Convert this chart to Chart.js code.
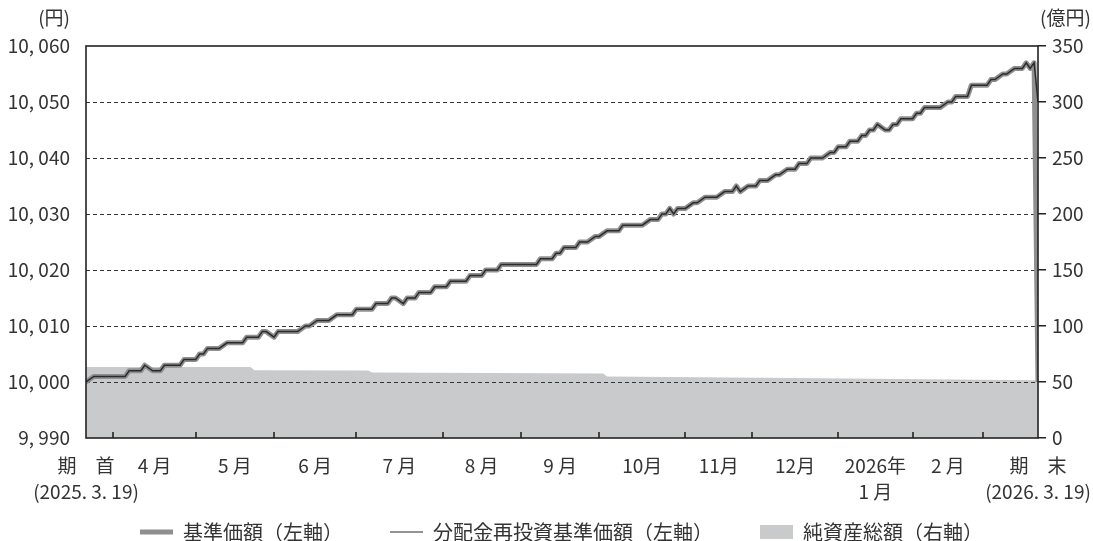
<!DOCTYPE html>
<html lang="ja">
<head>
<meta charset="utf-8">
<script src="https://cdn.jsdelivr.net/npm/chart.js@4.4.1/dist/chart.umd.min.js"></script>
<style>
  body { margin: 0; background: #fff; }
</style>
</head>
<body>
<canvas id="chart" width="1093" height="541"></canvas>
<script>
// x = trading day from 期首 (0) to 期末 (243)
const navDays = [
  0, 2, 10, 11, 14, 15, 17, 19, 20, 24,
  25, 28, 29, 30, 31, 34, 36, 40, 41, 44,
  45, 46, 48, 49, 54, 56, 57, 59, 62, 64,
  68, 69, 73, 74, 77, 78, 79, 81, 82, 84,
  85, 88, 89, 92, 93, 97, 98, 101, 102, 105,
  106, 115, 116, 119, 120, 121, 122, 125, 126, 128,
  130, 131, 133, 136, 137, 142, 144, 146, 147, 148,
  149, 150, 151, 153, 155, 156, 158, 161, 163, 165,
  166, 167, 169, 171, 172, 174, 176, 177, 179, 181,
  182, 184, 185, 188, 190, 191, 192, 194, 195, 197,
  198, 199, 200, 201, 202, 204, 205, 206, 207, 208,
  211, 212, 213, 214, 218, 220, 221, 222, 225, 226,
  230, 231, 232, 234, 235, 237, 239, 240, 241, 242,
  243
];
// 基準価額 (円)
const navValues = [
  10000, 10001, 10001, 10002, 10002, 10003, 10002, 10002, 10003, 10003,
  10004, 10004, 10005, 10005, 10006, 10006, 10007, 10007, 10008, 10008,
  10009, 10009, 10008, 10009, 10009, 10010, 10010, 10011, 10011, 10012,
  10012, 10013, 10013, 10014, 10014, 10015, 10015, 10014, 10015, 10015,
  10016, 10016, 10017, 10017, 10018, 10018, 10019, 10019, 10020, 10020,
  10021, 10021, 10022, 10022, 10023, 10023, 10024, 10024, 10025, 10025,
  10026, 10026, 10027, 10027, 10028, 10028, 10029, 10029, 10030, 10030,
  10031, 10030, 10031, 10031, 10032, 10032, 10033, 10033, 10034, 10034,
  10035, 10034, 10035, 10035, 10036, 10036, 10037, 10037, 10038, 10038,
  10039, 10039, 10040, 10040, 10041, 10041, 10042, 10042, 10043, 10043,
  10044, 10044, 10045, 10045, 10046, 10045, 10045, 10046, 10046, 10047,
  10047, 10048, 10048, 10049, 10049, 10050, 10050, 10051, 10051, 10053,
  10053, 10054, 10054, 10055, 10055, 10056, 10056, 10057, 10056, 10057,
  10000
];
// 分配金再投資基準価額 (円)
const reinvestValues = [
  10000, 10001, 10001, 10002, 10002, 10003, 10002, 10002, 10003, 10003,
  10004, 10004, 10005, 10005, 10006, 10006, 10007, 10007, 10008, 10008,
  10009, 10009, 10008, 10009, 10009, 10010, 10010, 10011, 10011, 10012,
  10012, 10013, 10013, 10014, 10014, 10015, 10015, 10014, 10015, 10015,
  10016, 10016, 10017, 10017, 10018, 10018, 10019, 10019, 10020, 10020,
  10021, 10021, 10022, 10022, 10023, 10023, 10024, 10024, 10025, 10025,
  10026, 10026, 10027, 10027, 10028, 10028, 10029, 10029, 10030, 10030,
  10031, 10030, 10031, 10031, 10032, 10032, 10033, 10033, 10034, 10034,
  10035, 10034, 10035, 10035, 10036, 10036, 10037, 10037, 10038, 10038,
  10039, 10039, 10040, 10040, 10041, 10041, 10042, 10042, 10043, 10043,
  10044, 10044, 10045, 10045, 10046, 10045, 10045, 10046, 10046, 10047,
  10047, 10048, 10048, 10049, 10049, 10050, 10050, 10051, 10051, 10053,
  10053, 10054, 10054, 10055, 10055, 10056, 10056, 10057, 10056, 10057,
  10050
];
// 純資産総額 (億円)
const assetDays = [0, 42, 43, 72, 73, 132, 133, 180, 243];
const assetValues = [63.5, 63.5, 60.5, 60.2, 58.4, 57.6, 55.0, 53.6, 51.5];

const monthStarts = [7, 28, 48, 69, 91, 111, 131, 153, 170, 192, 211, 229];
const xLabels = [
  ['期　首', '(2025. 3. 19)'], '4 月', '5 月', '6 月', '7 月', '8 月', '9 月',
  '10月', '11月', '12月', ['2026年', '1 月'], '2 月', ['期　末', '(2026. 3. 19)']
];
const leftTicks = [9990, 10000, 10010, 10020, 10030, 10040, 10050, 10060];
const rightTicks = [0, 50, 100, 150, 200, 250, 300, 350];

const FONT = '"Noto Sans CJK JP", "Noto Sans", sans-serif';
const TEXT = '#333';
const LEGEND_PAD = 47;
const LEGEND_FONT = 20;
Chart.defaults.font.family = FONT;
Chart.defaults.color = TEXT;

const lastDay = navDays[navDays.length - 1];
// label under the middle of each month, 期首/期末 at the ends
const labelPos = [0];
for (let i = 0; i < monthStarts.length - 1; i++) labelPos.push((monthStarts[i] + monthStarts[i + 1]) / 2);
labelPos.push(lastDay);

const toXY = (xs, ys) => xs.map((d, i) => ({ x: d, y: ys[i] }));
const yen = v => { const s = String(v); return s.length > 3 ? s.slice(0, -3) + ', ' + s.slice(-3) : s; };

const framePlugin = {
  id: 'frame',
  afterLayout(chart) {
    // legend row sits lower and a bit right, as in the original
    const lg = chart.legend;
    lg.top = 532 - LEGEND_PAD - LEGEND_FONT / 2;
    lg.bottom = chart.height;
    lg.left += 15;
    lg.right += 15;
  },
  afterDatasetDraw(chart, args) {
    if (args.index !== 2) return; // dashed grid sits on top of the area
    const { ctx, chartArea: a, scales: { y } } = chart;
    ctx.save();
    ctx.strokeStyle = '#333';
    ctx.lineWidth = 1;
    ctx.setLineDash([4, 3]);
    leftTicks.slice(1, -1).forEach(v => {
      const py = Math.round(y.getPixelForValue(v)) + 0.5;
      ctx.beginPath();
      ctx.moveTo(a.left, py);
      ctx.lineTo(a.right, py);
      ctx.stroke();
    });
    ctx.restore();
  },
  afterDraw(chart) {
    const { ctx, chartArea: a, scales: { x } } = chart;
    ctx.save();
    ctx.strokeStyle = '#222';
    ctx.lineWidth = 1.6;
    ctx.strokeRect(a.left, a.top, a.right - a.left, a.bottom - a.top);
    monthStarts.forEach(d => {
      const px = Math.round(x.getPixelForValue(d));
      ctx.beginPath();
      ctx.moveTo(px, a.bottom);
      ctx.lineTo(px, a.bottom - 6);
      ctx.stroke();
    });
    ctx.fillStyle = TEXT;
    ctx.font = '19px ' + FONT;
    ctx.textBaseline = 'middle';
    ctx.textAlign = 'right';
    ctx.fillText('(円)', a.left - 16, 18);
    ctx.textAlign = 'left';
    ctx.fillText('(億円)', a.right + 2, 18);
    ctx.restore();
  }
};

new Chart(document.getElementById('chart'), {
  type: 'line',
  data: {
    datasets: [{
      label: '基準価額（左軸）',
      data: toXY(navDays, navValues),
      borderColor: '#8f8f8f',
      borderWidth: 5,
      borderJoinStyle: 'round',
      pointRadius: 0,
      yAxisID: 'y',
      order: 2
    }, {
      label: '分配金再投資基準価額（左軸）',
      data: toXY(navDays, reinvestValues),
      borderColor: '#2b2b2b',
      borderWidth: 1.5,
      pointRadius: 0,
      yAxisID: 'y',
      order: 1
    }, {
      label: '純資産総額（右軸）',
      data: toXY(assetDays, assetValues),
      borderWidth: 0,
      backgroundColor: '#c9cacc',
      fill: 'origin',
      pointRadius: 0,
      yAxisID: 'y1',
      order: 3
    }]
  },
  options: {
    responsive: false,
    animation: false,
    layout: { padding: { top: 46, left: 0, right: 0, bottom: 0 } },
    plugins: {
      tooltip: { enabled: false },
      legend: {
        position: 'bottom',
        maxHeight: 30,
        labels: {
          usePointStyle: true,
          pointStyleWidth: 33,
          boxHeight: 14,
          padding: LEGEND_PAD,
          color: TEXT,
          font: { size: LEGEND_FONT },
          generateLabels: () => [
            { text: '基準価額（左軸）', pointStyle: 'line', strokeStyle: '#8f8f8f', lineWidth: 5, fillStyle: '#8f8f8f', fontColor: TEXT, hidden: false, datasetIndex: 0 },
            { text: '分配金再投資基準価額（左軸）', pointStyle: 'line', strokeStyle: '#2b2b2b', lineWidth: 1.2, fillStyle: '#2b2b2b', fontColor: TEXT, hidden: false, datasetIndex: 1 },
            { text: '純資産総額（右軸）', pointStyle: 'rect', strokeStyle: '#c9cacc', lineWidth: 0, fillStyle: '#c9cacc', fontColor: TEXT, hidden: false, datasetIndex: 2 }
          ]
        }
      }
    },
    scales: {
      x: {
        type: 'linear',
        min: 0,
        max: lastDay,
        afterBuildTicks: axis => { axis.ticks = labelPos.map(v => ({ value: v })); },
        afterFit: scale => { scale.height = 73; scale.paddingLeft = 0; scale.paddingRight = 0; },
        grid: { display: false, drawTicks: false },
        border: { display: false },
        ticks: {
          autoSkip: false,
          maxRotation: 0,
          minRotation: 0,
          padding: 15,
          font: { size: 19, lineHeight: 26 / 19 },
          callback: (v, i) => xLabels[i]
        }
      },
      y: {
        position: 'left',
        min: 9990,
        max: 10060,
        afterBuildTicks: axis => { axis.ticks = leftTicks.map(v => ({ value: v })); },
        afterFit: scale => { scale.width = 86; },
        grid: { display: false, drawTicks: false },
        border: { display: false },
        ticks: { padding: 16, font: { size: 19 }, callback: v => yen(v) }
      },
      y1: {
        position: 'right',
        min: 0,
        max: 350,
        afterBuildTicks: axis => { axis.ticks = rightTicks.map(v => ({ value: v })); },
        afterFit: scale => { scale.width = 55; },
        grid: { drawOnChartArea: false, drawTicks: true, tickLength: 8, color: '#222', lineWidth: 1.5 },
        border: { display: false },
        ticks: { padding: 6, font: { size: 19 } }
      }
    }
  },
  plugins: [framePlugin]
});
</script>
</body>
</html>
